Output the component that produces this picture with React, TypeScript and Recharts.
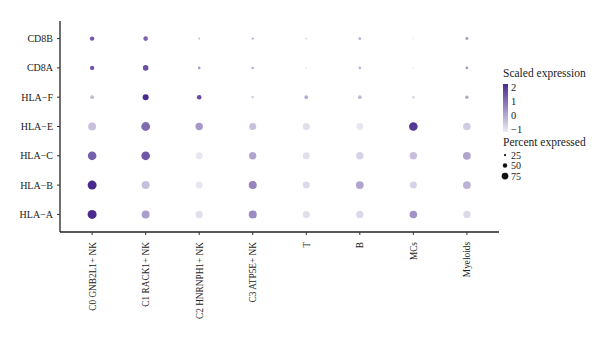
import React from "react";
import { ScatterChart, Scatter, XAxis, YAxis } from "recharts";

// clusters along x, genes along y (bottom to top = 1..7)
const clusters = ["C0 GNB2L1+ NK", "C1 RACK1+ NK", "C2 HNRNPH1+ NK", "C3 ATP5E+ NK", "T", "B", "MCs", "Myeloids"];
const genes = ["HLA−A", "HLA−B", "HLA−C", "HLA−E", "HLA−F", "CD8A", "CD8B"];

// scaled average expression, one row per gene (same order as genes)
const expr = [
  [2.1, 0.2, -0.8, 0.5, -0.8, -0.7, 0.4, -0.7],
  [2.2, -0.3, -0.9, 0.6, -0.7, 0.1, -0.6, -0.1],
  [1.2, 1.3, -0.9, 0.1, -0.8, -0.6, -0.3, 0.1],
  [-0.3, 1.0, 0.3, -0.3, -0.8, -0.9, 1.8, -0.5],
  [-0.2, 2.0, 1.5, -0.6, 0.0, -0.2, -0.6, 0.0],
  [1.3, 1.4, 0.2, 0.1, -0.8, -0.1, -0.8, 0.3],
  [1.3, 1.1, -0.3, 0.0, -0.5, 0.0, -0.8, 0.3],
];

// percent of cells expressing
const pct = [
  [100, 89, 80, 89, 78, 82, 84, 80],
  [100, 89, 78, 89, 78, 87, 78, 87],
  [96, 96, 78, 82, 78, 82, 82, 87],
  [87, 98, 82, 78, 78, 76, 96, 84],
  [42, 67, 51, 30, 42, 42, 27, 40],
  [49, 62, 30, 27, 17, 29, 15, 31],
  [49, 51, 24, 25, 20, 29, 15, 33],
];

const legendSizes = [25, 50, 75];
const legendTicks = [2, 1, 0, -1];

const LOW = [237, 236, 244];
const HIGH = [74, 42, 143];

function colour(v: number) {
  const t = Math.max(0, Math.min(1, (v + 1) / 3));
  const c = LOW.map((l, i) => Math.round(l + (HIGH[i] - l) * t));
  return `rgb(${c[0]},${c[1]},${c[2]})`;
}

const radius = (p: number) => p * 0.045;

const points = genes.flatMap((g, gi) =>
  clusters.map((c, ci) => ({ x: ci + 1, y: gi + 1, expr: expr[gi][ci], pct: pct[gi][ci] }))
);

const font = "'Liberation Serif', 'DejaVu Serif', serif";

function Dot(props: any) {
  const { cx, cy, payload } = props;
  return <circle cx={cx} cy={cy} r={radius(payload.pct)} fill={colour(payload.expr)} />;
}

function XTick(props: any) {
  const { x, y, payload } = props;
  return (
    <text
      transform={`translate(${x + 3.5},${y + 5}) rotate(-90)`}
      textAnchor="end"
      fontFamily={font}
      fontSize={9.3}
      fill="#222"
    >
      {clusters[payload.value - 1]}
    </text>
  );
}

function YTick(props: any) {
  const { x, y, payload } = props;
  return (
    <text x={x - 2} y={y + 3.5} textAnchor="end" fontFamily={font} fontSize={10} fill="#222">
      {genes[payload.value - 1]}
    </text>
  );
}

function Legend() {
  const barTop = 84;
  const barH = 48;
  const yOf = (v: number) => barTop + 3 + ((2 - v) / 3) * (barH - 6);
  return (
    <svg width={600} height={344} style={{ position: "absolute", left: 0, top: 0, pointerEvents: "none" }}>
      <defs>
        <linearGradient id="grad" x1="0" y1="0" x2="0" y2="1">
          <stop offset="0%" stopColor={colour(2.2)} />
          <stop offset="100%" stopColor={colour(-1.1)} />
        </linearGradient>
      </defs>
      <text x={503} y={77} fontFamily={font} fontSize={11.5} fill="#222">
        Scaled expression
      </text>
      <rect x={503} y={barTop} width={5} height={barH} fill="url(#grad)" />
      {legendTicks.map((t) => (
        <text key={t} x={511} y={yOf(t) + 3.5} fontFamily={font} fontSize={10.5} fill="#222">
          {t < 0 ? `−${Math.abs(t)}` : t}
        </text>
      ))}
      <text x={503} y={146} fontFamily={font} fontSize={11.5} fill="#222">
        Percent expressed
      </text>
      {legendSizes.map((s, i) => (
        <g key={s}>
          <circle cx={505} cy={155 + i * 10.5} r={radius(s)} fill="#111" />
          <text x={511} y={158.5 + i * 10.5} fontFamily={font} fontSize={10} fill="#222">
            {s}
          </text>
        </g>
      ))}
    </svg>
  );
}

export default function App() {
  return (
    <div style={{ position: "absolute", left: 0, top: 0, width: 600, height: 344, background: "#fff" }}>
      <ScatterChart width={600} height={344} margin={{ top: 21, right: 101, bottom: 22, left: 5 }}>
        <XAxis
          type="number"
          dataKey="x"
          domain={[0.4, 8.6]}
          ticks={[1, 2, 3, 4, 5, 6, 7, 8]}
          tick={<XTick />}
          height={90}
          interval={0}
          axisLine={{ stroke: "#222", strokeWidth: 1.3 }}
          tickLine={{ stroke: "#333" }}
          tickSize={3}
        />
        <YAxis
          type="number"
          dataKey="y"
          domain={[0.4, 7.6]}
          ticks={[1, 2, 3, 4, 5, 6, 7]}
          tick={<YTick />}
          width={55}
          interval={0}
          axisLine={{ stroke: "#222", strokeWidth: 1.3 }}
          tickLine={{ stroke: "#333" }}
          tickSize={3}
        />
        <Scatter data={points} shape={<Dot />} isAnimationActive={false} />
      </ScatterChart>
      <Legend />
    </div>
  );
}
